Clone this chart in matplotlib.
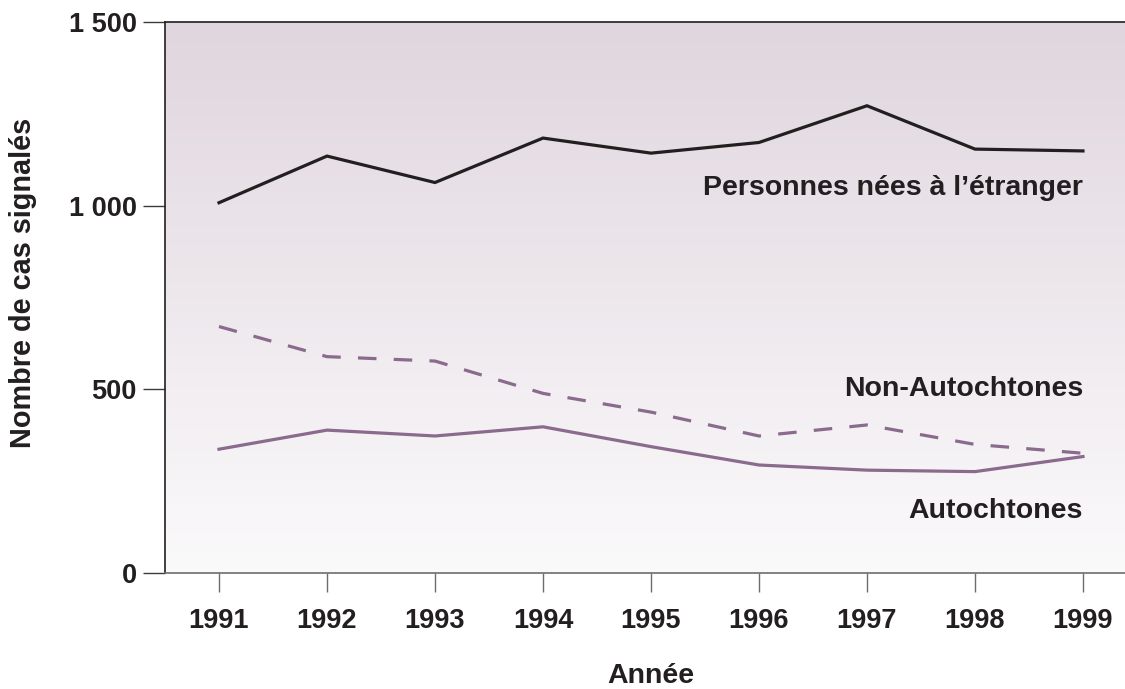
import numpy as np
import matplotlib
matplotlib.use("Agg")
import matplotlib.pyplot as plt
from matplotlib.colors import LinearSegmentedColormap

years = [1991, 1992, 1993, 1994, 1995, 1996, 1997, 1998, 1999]
etranger = [1008, 1135, 1063, 1184, 1143, 1172, 1272, 1154, 1149]
non_autochtones = [671, 589, 577, 489, 438, 373, 403, 350, 326]
autochtones = [337, 389, 373, 398, 344, 294, 280, 276, 317]
y_ticks = [0, 500, 1000, 1500]
y_ticklabels = ["0", "500", "1 000", "1 500"]

plt.rcParams['font.family'] = ['Liberation Sans', 'DejaVu Sans']
plt.rcParams['font.weight'] = 'bold'

DARK = '#231f20'
PURPLE = '#8a6a8d'
FS = 19.5
FS_LAB = 20.5

fig = plt.figure(figsize=(11.25, 6.89), dpi=100)
ax = fig.add_axes([165/1125, 116/689, 960/1125, 551/689])

# gradient background
cmap = LinearSegmentedColormap.from_list('bg', ['#fbfafb', '#e0d6de'])
grad = np.linspace(0, 1, 256).reshape(-1, 1)
ax.imshow(grad, cmap=cmap, aspect='auto', origin='lower',
          extent=[0, 1, 0, 1], transform=ax.transAxes, zorder=0)

ax.plot(years, etranger, color=DARK, lw=2.3, solid_joinstyle='miter', zorder=3)
ln, = ax.plot(years, non_autochtones, color=PURPLE, lw=2.3, zorder=3)
ln.set_dashes((5.8, 5.4))
ax.plot(years, autochtones, color=PURPLE, lw=2.3, zorder=3)

ax.set_xlim(1990.5, 1999.389)
ax.set_ylim(0, 1500)

ax.set_xticks(years)
ax.set_xticklabels([str(y) for y in years], fontsize=FS, fontweight='bold', color=DARK)
ax.set_yticks(y_ticks)
ax.set_yticklabels(y_ticklabels, fontsize=FS, fontweight='bold', color=DARK)

ax.tick_params(axis='x', direction='out', length=13.7, width=1.0, color='#6d6d6d', pad=11.5)
ax.tick_params(axis='y', direction='out', length=16, width=1.0, color='#3a3a3a', pad=4.3)

ax.spines['right'].set_visible(False)
ax.spines['top'].set_color(DARK)
ax.spines['top'].set_linewidth(1.2)
ax.spines['left'].set_color(DARK)
ax.spines['left'].set_linewidth(1.2)
ax.spines['bottom'].set_color('#6d6d6d')
ax.spines['bottom'].set_linewidth(1.2)

ax.text(1999, 1029, "Personnes nées à l\u2019étranger", ha='right', va='baseline',
        fontsize=FS_LAB, fontweight='bold', color=DARK, zorder=4)
ax.text(1999, 483, "Non-Autochtones", ha='right', va='baseline',
        fontsize=FS_LAB, fontweight='bold', color=DARK, zorder=4)
ax.text(1999, 150, "Autochtones", ha='right', va='baseline',
        fontsize=FS_LAB, fontweight='bold', color=DARK, zorder=4)

fig.text(23/1125, 1 - 282.5/689, "Nombre de cas signalés", rotation=90,
         ha='center', va='center', fontsize=20.8, fontweight='bold', color=DARK)
fig.text(651/1125, 6/689, "Année", ha='center', va='baseline',
         fontsize=FS_LAB, fontweight='bold', color=DARK)

fig.savefig('out.png', dpi=100)
